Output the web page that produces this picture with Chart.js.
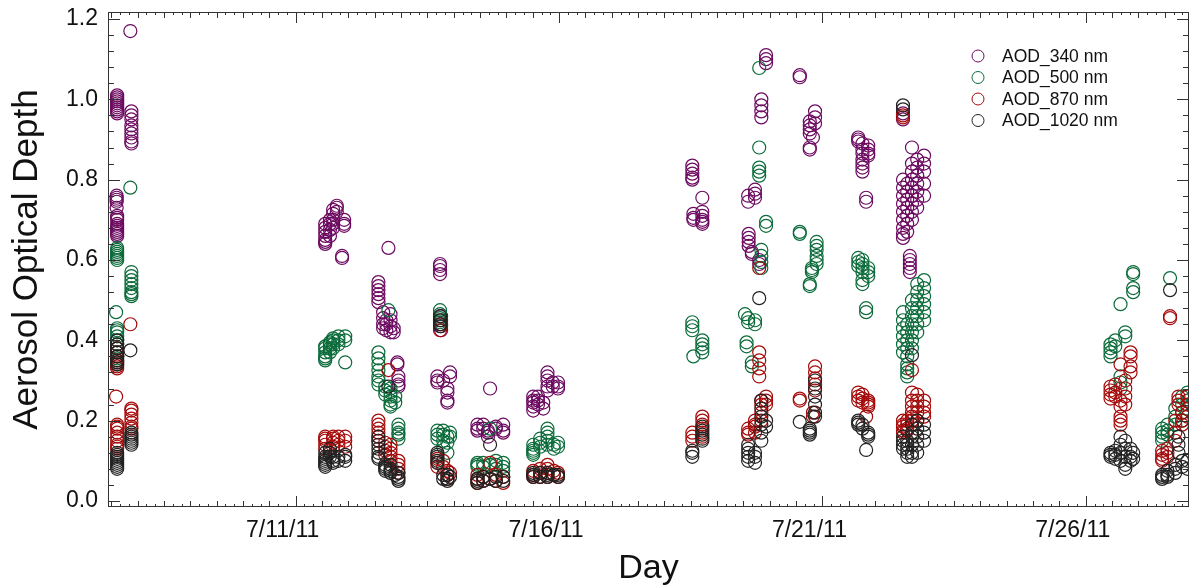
<!DOCTYPE html>
<html>
<head>
<meta charset="utf-8">
<script src="https://cdn.jsdelivr.net/npm/chart.js@4.4.1/dist/chart.umd.min.js"></script>
<style>
  html, body { margin: 0; padding: 0; background: #fff; }
  #wrap { width: 1190px; height: 588px; }
</style>
</head>
<body>
<div id="wrap"><canvas id="aodChart" width="1190" height="588"></canvas></div>
<script>
// x values are days of July 2011 (11 = 7/11/11 00:00), grouped as [day, [aod values...]]
const seriesNames = ["AOD_340 nm", "AOD_500 nm", "AOD_870 nm", "AOD_1020 nm"];
const seriesColors = ["#6c0a60", "#0b6b3a", "#a50a0a", "#222222"];

const xTickDays = [11, 16, 21, 26];
const xTickLabels = ["7/11/11", "7/16/11", "7/21/11", "7/26/11"];
const yTicks = [0, 0.2, 0.4, 0.6, 0.8, 1.0, 1.2];

const aod340 = [
  [7.61, [1.01, 1.005, 1.0, 0.995, 0.99, 0.985, 0.98, 0.975, 0.97, 0.965]],
  [7.60, [0.76, 0.755, 0.75, 0.745, 0.73]],
  [7.61, [0.71, 0.705, 0.70, 0.69, 0.685, 0.68, 0.675, 0.67, 0.665, 0.66]],
  [7.86, [1.17]],
  [7.88, [0.97, 0.96, 0.95, 0.935, 0.925, 0.915, 0.905, 0.895, 0.89]],
  [11.56, [0.64, 0.645, 0.65, 0.66, 0.67, 0.68, 0.69]],
  [11.65, [0.66, 0.675, 0.69, 0.70]],
  [11.71, [0.68, 0.69, 0.70, 0.715, 0.725]],
  [11.78, [0.72, 0.73, 0.735]],
  [11.88, [0.605, 0.61]],
  [11.92, [0.685, 0.69, 0.70]],
  [12.57, [0.545, 0.535, 0.525, 0.515, 0.505, 0.495]],
  [12.76, [0.63]],
  [12.66, [0.47, 0.455, 0.44, 0.43]],
  [12.72, [0.45, 0.44, 0.425]],
  [12.80, [0.465, 0.45, 0.435, 0.42]],
  [12.86, [0.43, 0.42]],
  [12.93, [0.345, 0.34]],
  [12.95, [0.31, 0.30, 0.29, 0.285]],
  [13.74, [0.59, 0.585, 0.575, 0.565]],
  [13.76, [0.46, 0.45, 0.44, 0.435, 0.425]],
  [13.69, [0.31, 0.30, 0.295]],
  [13.80, [0.30]],
  [13.88, [0.28, 0.27, 0.25, 0.245]],
  [13.93, [0.32, 0.31]],
  [14.69, [0.28]],
  [14.45, [0.19, 0.18, 0.175]],
  [14.56, [0.19, 0.18]],
  [14.65, [0.175, 0.17, 0.16]],
  [14.80, [0.185, 0.18]],
  [14.94, [0.19, 0.175, 0.17]],
  [15.51, [0.26, 0.25, 0.245, 0.235, 0.225]],
  [15.60, [0.26, 0.25, 0.24]],
  [15.70, [0.245, 0.23]],
  [15.78, [0.32, 0.31, 0.30, 0.285, 0.275]],
  [15.88, [0.295, 0.285]],
  [15.98, [0.295, 0.285, 0.28]],
  [18.53, [0.835, 0.825, 0.815, 0.805, 0.80]],
  [18.55, [0.715, 0.705, 0.70]],
  [18.72, [0.755, 0.72, 0.71, 0.70, 0.695, 0.69]],
  [19.93, [1.11, 1.10, 1.09]],
  [19.84, [1.0, 0.985, 0.97, 0.955]],
  [19.59, [0.76, 0.745]],
  [19.72, [0.775, 0.765, 0.755]],
  [19.60, [0.665, 0.655, 0.645, 0.635]],
  [19.66, [0.62, 0.615]],
  [19.80, [0.60, 0.59]],
  [20.57, [1.06, 1.055]],
  [20.76, [0.945, 0.935, 0.925, 0.915]],
  [20.86, [0.97, 0.955, 0.94]],
  [20.76, [0.88, 0.875]],
  [20.82, [0.905]],
  [21.68, [0.905, 0.90, 0.895]],
  [21.76, [0.89, 0.875, 0.865]],
  [21.87, [0.885, 0.875, 0.865, 0.86]],
  [21.76, [0.85, 0.84, 0.83, 0.82]],
  [21.83, [0.755, 0.745]],
  [22.53, [0.965, 0.95]],
  [22.53, [0.80, 0.78, 0.76, 0.74, 0.72, 0.70, 0.68, 0.665, 0.655]],
  [22.61, [0.79, 0.77, 0.75, 0.73, 0.71, 0.69, 0.67]],
  [22.70, [0.88, 0.84, 0.82, 0.80, 0.78, 0.76, 0.74, 0.72, 0.70]],
  [22.80, [0.85, 0.83, 0.81, 0.79, 0.77, 0.75, 0.73]],
  [22.93, [0.86, 0.84, 0.82, 0.79, 0.76]],
  [22.66, [0.61, 0.60, 0.59, 0.58, 0.57]]
];

const aod500 = [
  [7.61, [0.63, 0.625, 0.62, 0.615, 0.61, 0.605, 0.60]],
  [7.59, [0.47]],
  [7.61, [0.43, 0.425, 0.42, 0.41, 0.40, 0.39, 0.38, 0.37, 0.36, 0.355]],
  [7.86, [0.78]],
  [7.88, [0.57, 0.56, 0.55, 0.54, 0.53, 0.52, 0.515, 0.51]],
  [11.56, [0.35, 0.355, 0.36, 0.37, 0.38, 0.385]],
  [11.65, [0.37, 0.38, 0.39, 0.395]],
  [11.71, [0.38, 0.39, 0.40, 0.405]],
  [11.81, [0.39, 0.40, 0.41]],
  [11.94, [0.345, 0.40, 0.41]],
  [12.57, [0.37, 0.355, 0.34, 0.325, 0.31, 0.30, 0.29]],
  [12.76, [0.475]],
  [12.70, [0.285, 0.275, 0.265]],
  [12.80, [0.28, 0.27, 0.26, 0.25, 0.24, 0.235]],
  [12.89, [0.26, 0.245]],
  [12.95, [0.19, 0.18, 0.17, 0.165, 0.155]],
  [13.74, [0.475, 0.465, 0.455, 0.45, 0.445]],
  [13.69, [0.175, 0.165, 0.155]],
  [13.80, [0.175, 0.165, 0.15, 0.135]],
  [13.88, [0.16, 0.145, 0.12]],
  [13.93, [0.17, 0.16]],
  [14.69, [0.18]],
  [14.45, [0.095, 0.09, 0.085]],
  [14.56, [0.095, 0.085]],
  [14.69, [0.09]],
  [14.80, [0.10, 0.09, 0.08]],
  [14.94, [0.095, 0.085, 0.075]],
  [15.51, [0.14, 0.13, 0.125, 0.12, 0.115]],
  [15.64, [0.155, 0.145, 0.135]],
  [15.78, [0.18, 0.17, 0.16, 0.15, 0.14]],
  [15.90, [0.14, 0.13]],
  [15.98, [0.145, 0.135]],
  [18.53, [0.445, 0.435, 0.425]],
  [18.55, [0.36]],
  [18.72, [0.40, 0.39, 0.38, 0.37]],
  [19.80, [1.078, 0.88, 0.83, 0.82, 0.81]],
  [19.93, [0.695, 0.685]],
  [19.84, [0.625, 0.61, 0.595, 0.58]],
  [19.53, [0.465]],
  [19.59, [0.455, 0.445]],
  [19.72, [0.45, 0.44]],
  [19.56, [0.395, 0.385]],
  [19.66, [0.345, 0.335]],
  [20.57, [0.67, 0.665]],
  [20.89, [0.645, 0.635, 0.625, 0.61, 0.60, 0.59]],
  [20.80, [0.58, 0.575, 0.57]],
  [20.76, [0.54, 0.535]],
  [21.68, [0.605, 0.595, 0.585]],
  [21.76, [0.60, 0.59, 0.58, 0.57]],
  [21.87, [0.58, 0.57, 0.56]],
  [21.76, [0.55, 0.54]],
  [21.83, [0.48, 0.47]],
  [22.53, [0.47, 0.45, 0.43, 0.41, 0.39, 0.37]],
  [22.61, [0.44, 0.42, 0.40, 0.38, 0.36, 0.34, 0.33, 0.32, 0.31]],
  [22.70, [0.50, 0.48, 0.46, 0.44, 0.42, 0.40, 0.38]],
  [22.80, [0.54, 0.52, 0.50, 0.48, 0.46, 0.44, 0.42]],
  [22.93, [0.55, 0.53, 0.51, 0.49, 0.47, 0.45]],
  [26.66, [0.49]],
  [26.90, [0.57, 0.565, 0.53, 0.52]],
  [26.47, [0.39, 0.38, 0.37, 0.36]],
  [26.56, [0.40, 0.385]],
  [26.75, [0.42, 0.41]],
  [26.66, [0.31, 0.295, 0.28]],
  [27.60, [0.555]],
  [27.45, [0.18, 0.17, 0.16, 0.15]],
  [27.55, [0.19, 0.175, 0.165]],
  [27.70, [0.23, 0.21, 0.19]],
  [27.83, [0.26, 0.24, 0.22, 0.20]],
  [27.93, [0.27, 0.25, 0.23]]
];

const aod870 = [
  [7.61, [0.38, 0.37, 0.36, 0.35, 0.345, 0.34, 0.335, 0.33]],
  [7.59, [0.26]],
  [7.61, [0.19, 0.185, 0.18, 0.17, 0.16, 0.15, 0.14, 0.135, 0.13]],
  [7.86, [0.44]],
  [7.88, [0.23, 0.225, 0.215, 0.205, 0.195, 0.185, 0.18]],
  [11.56, [0.13, 0.14, 0.15, 0.155, 0.16]],
  [11.71, [0.135, 0.145, 0.155, 0.16]],
  [11.81, [0.14, 0.15, 0.16]],
  [11.94, [0.135, 0.15, 0.16]],
  [12.57, [0.20, 0.19, 0.18, 0.17, 0.16, 0.15]],
  [12.76, [0.326]],
  [12.70, [0.145, 0.135, 0.125, 0.115]],
  [12.80, [0.14, 0.13, 0.12, 0.11, 0.10]],
  [12.95, [0.10, 0.09, 0.08, 0.07]],
  [13.74, [0.44, 0.425]],
  [13.69, [0.105, 0.095, 0.085]],
  [13.80, [0.10, 0.085]],
  [13.88, [0.075, 0.065, 0.055]],
  [13.93, [0.07]],
  [14.69, [0.095]],
  [14.45, [0.065, 0.055, 0.045]],
  [14.56, [0.06, 0.05]],
  [14.69, [0.055]],
  [14.80, [0.065, 0.05]],
  [14.94, [0.06, 0.045]],
  [15.51, [0.075, 0.065, 0.06]],
  [15.64, [0.08, 0.07, 0.06]],
  [15.78, [0.09, 0.08, 0.07, 0.06]],
  [15.90, [0.075, 0.065]],
  [15.98, [0.07, 0.06]],
  [18.53, [0.17, 0.16, 0.15]],
  [18.72, [0.21, 0.20, 0.19, 0.18, 0.17, 0.16]],
  [19.80, [0.58, 0.37, 0.35, 0.33, 0.31]],
  [19.59, [0.18, 0.17, 0.165]],
  [19.72, [0.20, 0.19, 0.185, 0.17]],
  [19.84, [0.25, 0.24, 0.22, 0.20]],
  [19.93, [0.26, 0.25, 0.24]],
  [20.57, [0.255, 0.25]],
  [20.86, [0.335, 0.32, 0.305, 0.29, 0.275]],
  [20.82, [0.22, 0.21]],
  [21.68, [0.27, 0.26, 0.25]],
  [21.76, [0.265, 0.255, 0.245]],
  [21.87, [0.25, 0.245, 0.24, 0.235]],
  [21.83, [0.21]],
  [22.53, [0.96, 0.955]],
  [22.70, [0.326]],
  [22.53, [0.20, 0.19, 0.185, 0.175, 0.17]],
  [22.61, [0.20, 0.19, 0.18, 0.175]],
  [22.70, [0.27, 0.25, 0.235, 0.22, 0.21, 0.20]],
  [22.80, [0.265, 0.25, 0.235, 0.22, 0.20]],
  [22.93, [0.25, 0.235, 0.22, 0.21]],
  [26.47, [0.285, 0.275, 0.265, 0.255]],
  [26.56, [0.29, 0.27, 0.26]],
  [26.66, [0.34, 0.25, 0.235, 0.21, 0.20, 0.19]],
  [26.75, [0.30, 0.28, 0.26, 0.24]],
  [26.85, [0.37, 0.36, 0.335, 0.32]],
  [27.60, [0.46, 0.455]],
  [27.45, [0.125, 0.115, 0.105, 0.10]],
  [27.55, [0.13, 0.12, 0.11]],
  [27.70, [0.20, 0.17, 0.15]],
  [27.76, [0.26, 0.25, 0.24]],
  [27.83, [0.22, 0.20, 0.19]],
  [27.93, [0.26, 0.24, 0.21]]
];

const aod1020 = [
  [7.61, [0.40, 0.39, 0.38, 0.37, 0.36, 0.35, 0.345, 0.34]],
  [7.61, [0.12, 0.115, 0.11, 0.105, 0.10, 0.095, 0.09, 0.085, 0.08]],
  [7.86, [0.375]],
  [7.88, [0.17, 0.165, 0.16, 0.155, 0.15, 0.145, 0.14]],
  [11.56, [0.085, 0.09, 0.095, 0.10, 0.105, 0.11, 0.12]],
  [11.65, [0.11, 0.12, 0.13]],
  [11.71, [0.095, 0.10, 0.11]],
  [11.81, [0.10, 0.11]],
  [11.94, [0.10, 0.11, 0.115]],
  [12.57, [0.16, 0.15, 0.14, 0.13, 0.12, 0.11, 0.105]],
  [12.76, [0.285]],
  [12.70, [0.09, 0.085, 0.08, 0.075]],
  [12.80, [0.09, 0.08, 0.075, 0.07]],
  [12.89, [0.065]],
  [12.95, [0.07, 0.06, 0.055, 0.05]],
  [13.74, [0.46, 0.45, 0.44, 0.435]],
  [13.69, [0.12, 0.115, 0.11, 0.10, 0.095]],
  [13.80, [0.065, 0.055]],
  [13.88, [0.065, 0.055, 0.05]],
  [13.93, [0.06]],
  [14.69, [0.14]],
  [14.45, [0.055, 0.05, 0.045]],
  [14.56, [0.06, 0.05]],
  [14.69, [0.055]],
  [14.80, [0.06, 0.05]],
  [14.94, [0.06, 0.05]],
  [15.51, [0.07, 0.065, 0.06]],
  [15.64, [0.07, 0.06]],
  [15.78, [0.07, 0.065, 0.06]],
  [15.90, [0.065]],
  [15.98, [0.065, 0.06]],
  [18.53, [0.125, 0.12, 0.11]],
  [18.72, [0.185, 0.175, 0.165, 0.155, 0.15]],
  [19.80, [0.505]],
  [19.59, [0.14, 0.13, 0.12, 0.11, 0.10]],
  [19.72, [0.12, 0.11, 0.095]],
  [19.84, [0.25, 0.23, 0.21, 0.19, 0.17, 0.15]],
  [19.93, [0.20, 0.185]],
  [20.57, [0.197]],
  [20.76, [0.18, 0.175, 0.17, 0.165]],
  [20.86, [0.30, 0.28, 0.26, 0.24, 0.22, 0.21]],
  [21.68, [0.20, 0.195, 0.19]],
  [21.76, [0.19, 0.18]],
  [21.87, [0.17, 0.165, 0.16]],
  [21.83, [0.127]],
  [22.53, [0.985, 0.975]],
  [22.70, [0.363]],
  [22.53, [0.16, 0.15, 0.14, 0.13]],
  [22.61, [0.15, 0.14, 0.13, 0.12, 0.11]],
  [22.70, [0.19, 0.17, 0.16, 0.14, 0.12, 0.11]],
  [22.80, [0.20, 0.18, 0.16, 0.14, 0.12]],
  [22.93, [0.19, 0.17, 0.15]],
  [26.47, [0.12, 0.115, 0.11]],
  [26.56, [0.125, 0.115, 0.105]],
  [26.66, [0.16, 0.14, 0.12, 0.10]],
  [26.75, [0.15, 0.13, 0.11, 0.09, 0.08]],
  [26.85, [0.13, 0.11, 0.10]],
  [26.90, [0.12, 0.105]],
  [27.60, [0.525]],
  [27.45, [0.065, 0.06, 0.055]],
  [27.55, [0.075, 0.065, 0.06]],
  [27.70, [0.09, 0.08, 0.07]],
  [27.76, [0.16, 0.14, 0.12]],
  [27.83, [0.10, 0.085]],
  [27.93, [0.10, 0.08]]
];

const allSeries = [aod340, aod500, aod870, aod1020];

function toPoints(groups) {
  const pts = [];
  groups.forEach(([day, vals]) => vals.forEach(v => pts.push({ x: day, y: v })));
  return pts;
}

// inward tick marks, box frame and the legend, all placed through the chart's scales
const frameAndTicks = {
  id: "frameAndTicks",
  afterDatasetsDraw(chart) {
    const { ctx, chartArea: a, scales: { x, y } } = chart;
    ctx.save();
    ctx.strokeStyle = "#333";
    ctx.lineWidth = 1;
    ctx.strokeRect(a.left + 0.5, a.top + 0.5, a.right - a.left - 1, a.bottom - a.top - 1);

    ctx.beginPath();
    for (let k = Math.ceil(y.min * 25); k <= Math.floor(y.max * 25); k++) {
      const py = Math.round(y.getPixelForValue(k / 25)) + 0.5;
      const len = k % 5 === 0 ? 12 : 6;
      ctx.moveTo(a.left, py); ctx.lineTo(a.left + len, py);
      ctx.moveTo(a.right, py); ctx.lineTo(a.right - len, py);
    }
    for (let k = Math.ceil(x.min * 6); k <= Math.floor(x.max * 6); k++) {
      const px = Math.round(x.getPixelForValue(k / 6)) + 0.5;
      let len = 3;
      if (k % 3 === 0) len = 6;
      if (k % 6 === 0 && xTickDays.includes(k / 6)) len = 11;
      ctx.moveTo(px, a.bottom); ctx.lineTo(px, a.bottom - len);
      ctx.moveTo(px, a.top); ctx.lineTo(px, a.top + len);
    }
    ctx.stroke();

    // legend
    const lx = a.right - 211, ly = a.top + 44;
    ctx.font = "17.5px 'Liberation Sans', Arial, sans-serif";
    ctx.textBaseline = "middle";
    ctx.fillStyle = "#111";
    chart.data.datasets.forEach((ds, i) => {
      const cy = ly + i * 21.5;
      ctx.beginPath();
      ctx.arc(lx, cy, 6, 0, Math.PI * 2);
      ctx.strokeStyle = ds.borderColor;
      ctx.stroke();
      ctx.fillText(ds.label, lx + 24, cy + 1);
    });
    ctx.restore();
  }
};

const ctx = document.getElementById("aodChart").getContext("2d");
new Chart(ctx, {
  type: "scatter",
  data: {
    datasets: allSeries.map((s, i) => ({
      label: seriesNames[i],
      data: toPoints(s),
      borderColor: seriesColors[i],
      backgroundColor: "rgba(0,0,0,0)",
      pointRadius: 6.5,
      pointHoverRadius: 6.5,
      borderWidth: 1.2,
      order: 4 - i
    }))
  },
  options: {
    responsive: false,
    animation: false,
    devicePixelRatio: 1,
    layout: { autoPadding: false, padding: { top: 12, right: 1, left: 0, bottom: 0 } },
    plugins: { legend: { display: false }, tooltip: { enabled: false } },
    scales: {
      x: {
        type: "linear",
        min: 7.436,
        max: 27.96,
        grid: { display: false, drawTicks: false },
        border: { display: false },
        afterBuildTicks: s => { s.ticks = xTickDays.map(v => ({ value: v })); },
        afterFit: s => { s.height = 81; s.paddingLeft = 0; s.paddingRight = 0; },
        ticks: {
          autoSkip: false,
          maxRotation: 0,
          padding: 10,
          labelOffset: -13,
          color: "#111",
          font: { family: "'Liberation Sans', Arial, sans-serif", size: 23 },
          callback: v => xTickLabels[xTickDays.indexOf(v)]
        },
        title: {
          display: true,
          text: "Day",
          color: "#111",
          padding: { top: 0, bottom: 2 },
          font: { family: "'Liberation Sans', Arial, sans-serif", size: 34, lineHeight: 1 }
        }
      },
      y: {
        min: -0.015,
        max: 1.2174,
        grid: { display: false, drawTicks: false },
        border: { display: false },
        afterBuildTicks: s => { s.ticks = yTicks.map(v => ({ value: v })); },
        afterFit: s => { s.width = 108; s.paddingTop = 0; s.paddingBottom = 0; },
        ticks: {
          padding: 10,
          color: "#111",
          font: { family: "'Liberation Sans', Arial, sans-serif", size: 23 },
          callback: v => v.toFixed(1)
        },
        title: {
          display: true,
          text: "Aerosol Optical Depth",
          color: "#111",
          padding: { top: 10, bottom: 0 },
          font: { family: "'Liberation Sans', Arial, sans-serif", size: 35, lineHeight: 1 }
        }
      }
    }
  },
  plugins: [frameAndTicks]
});
</script>
</body>
</html>
